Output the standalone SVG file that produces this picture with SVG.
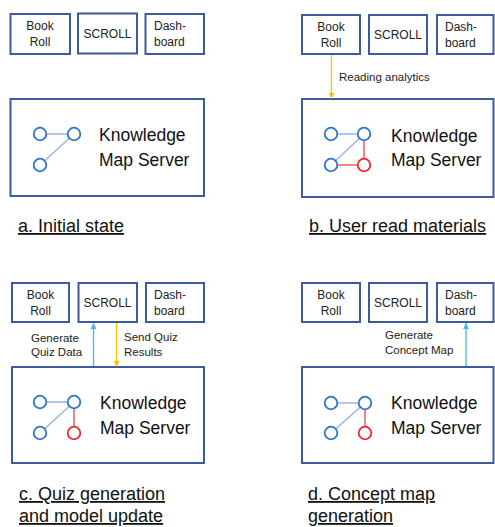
<svg xmlns="http://www.w3.org/2000/svg" width="495" height="527" viewBox="0 0 495 527">
<style>
.box{fill:#fff;stroke:#3C5B9C;stroke-width:2}
.sm{font-family:"Liberation Sans",Arial,sans-serif;font-size:12px;fill:#222;text-anchor:middle}
.sl{font-family:"Liberation Sans",Arial,sans-serif;font-size:12px;fill:#222}
.lbl{font-family:"Liberation Sans",Arial,sans-serif;font-size:11.5px;fill:#222}
.big{font-family:"Liberation Sans",Arial,sans-serif;font-size:17.5px;fill:#111}
.cap{font-family:"Liberation Sans",Arial,sans-serif;font-size:18px;fill:#111;text-decoration:underline}
.nb{fill:#fff;stroke:#2E75C6;stroke-width:1.8}
.nr{fill:#fff;stroke:#F0282D;stroke-width:1.8}
.eb{stroke:#9DB3E0;stroke-width:1.5}
.er{stroke:#F25A5E;stroke-width:1.5}
.ao{stroke:#FFC000;stroke-width:1.3;fill:none}
.ac{stroke:#3FB8EE;stroke-width:1.3;fill:none}
</style>
<defs>
<marker id="mo" viewBox="0 0 6 6" refX="6" refY="3" markerWidth="6" markerHeight="6" orient="auto" markerUnits="userSpaceOnUse"><path d="M0,0 L6,3 L0,6 z" fill="#FFC000"/></marker>
<marker id="mc" viewBox="0 0 6 6" refX="6" refY="3" markerWidth="6" markerHeight="6" orient="auto" markerUnits="userSpaceOnUse"><path d="M0,0 L6,3 L0,6 z" fill="#3FB8EE"/></marker>
</defs>

<!-- Panel a -->
<g id="a-bookroll"><rect class="box" x="10.5" y="14" width="59.5" height="40"/><text class="sm" x="40" y="30">Book</text><text class="sm" x="40" y="46">Roll</text></g>
<g id="a-scroll"><rect class="box" x="78" y="13.5" width="59" height="40"/><text class="sm" x="107.5" y="38">SCROLL</text></g>
<g id="a-dashboard"><rect class="box" x="145.5" y="14" width="58.5" height="40"/><text class="sl" x="154" y="30">Dash-</text><text class="sl" x="154" y="46">board</text></g>
<g id="a-kms"><rect class="box" x="10.5" y="99" width="193.5" height="97"/>
<line class="eb" x1="40" y1="134" x2="74" y2="134"/><line class="eb" x1="74" y1="134" x2="40" y2="165"/>
<circle class="nb" cx="40" cy="134" r="6.3"/><circle class="nb" cx="74" cy="134" r="6.3"/><circle class="nb" cx="40" cy="165" r="6.3"/>
<text class="big" x="99" y="140.5">Knowledge</text><text class="big" x="99" y="165.5">Map Server</text></g>
<text class="cap" x="18" y="232">a. Initial state</text>

<!-- Panel b -->
<g id="b-bookroll"><rect class="box" x="302" y="15" width="58" height="39"/><text class="sm" x="331" y="31">Book</text><text class="sm" x="331" y="47">Roll</text></g>
<g id="b-scroll"><rect class="box" x="369" y="15" width="58" height="39"/><text class="sm" x="398" y="39">SCROLL</text></g>
<g id="b-dashboard"><rect class="box" x="437" y="15" width="56.5" height="39"/><text class="sl" x="445" y="31">Dash-</text><text class="sl" x="445" y="47">board</text></g>
<g id="b-kms"><rect class="box" x="302" y="99" width="191.5" height="98"/>
<line class="eb" x1="331" y1="134" x2="364" y2="134"/><line class="eb" x1="364" y1="134" x2="331" y2="165"/>
<line class="er" x1="364" y1="134" x2="364" y2="165"/><line class="er" x1="331" y1="165" x2="364" y2="165"/>
<circle class="nb" cx="331" cy="134" r="6.3"/><circle class="nb" cx="364" cy="134" r="6.3"/><circle class="nb" cx="331" cy="165" r="6.3"/><circle class="nr" cx="364" cy="165" r="6.3"/>
<text class="big" x="391" y="141.5">Knowledge</text><text class="big" x="391" y="165.5">Map Server</text></g>
<text class="cap" x="309" y="232">b. User read materials</text>

<!-- Panel c -->
<g id="c-bookroll"><rect class="box" x="12" y="283" width="57" height="39"/><text class="sm" x="40.5" y="299">Book</text><text class="sm" x="40.5" y="315">Roll</text></g>
<g id="c-scroll"><rect class="box" x="78.5" y="283" width="58.5" height="39"/><text class="sm" x="107.5" y="307">SCROLL</text></g>
<g id="c-dashboard"><rect class="box" x="146" y="283" width="58" height="39"/><text class="sl" x="154" y="299">Dash-</text><text class="sl" x="154" y="315">board</text></g>
<g id="c-kms"><rect class="box" x="12" y="367" width="192" height="96"/>
<line class="eb" x1="40" y1="402" x2="74" y2="402"/><line class="eb" x1="74" y1="402" x2="40" y2="433"/>
<line class="er" x1="74" y1="402" x2="74" y2="433"/>
<circle class="nb" cx="40" cy="402" r="6.3"/><circle class="nb" cx="74" cy="402" r="6.3"/><circle class="nb" cx="40" cy="433" r="6.3"/><circle class="nr" cx="74" cy="433" r="6.3"/>
<text class="big" x="100" y="409">Knowledge</text><text class="big" x="100" y="434">Map Server</text></g>
<text class="cap" x="19" y="500">c. Quiz generation</text>
<text class="cap" x="19" y="522">and model update</text>

<!-- Panel d -->
<g id="d-bookroll"><rect class="box" x="302" y="283" width="58" height="39"/><text class="sm" x="331" y="299">Book</text><text class="sm" x="331" y="315">Roll</text></g>
<g id="d-scroll"><rect class="box" x="369" y="283" width="58" height="39"/><text class="sm" x="398" y="307">SCROLL</text></g>
<g id="d-dashboard"><rect class="box" x="437" y="283" width="56.5" height="39"/><text class="sl" x="445" y="299">Dash-</text><text class="sl" x="445" y="315">board</text></g>
<g id="d-kms"><rect class="box" x="302" y="367" width="191.5" height="96"/>
<line class="eb" x1="331" y1="403" x2="365" y2="403"/><line class="eb" x1="365" y1="403" x2="331" y2="433"/>
<line class="er" x1="365" y1="403" x2="365" y2="433"/>
<circle class="nb" cx="331" cy="403" r="6.3"/><circle class="nb" cx="365" cy="403" r="6.3"/><circle class="nb" cx="331" cy="433" r="6.3"/><circle class="nr" cx="365" cy="433" r="6.3"/>
<text class="big" x="391" y="409">Knowledge</text><text class="big" x="391" y="434">Map Server</text></g>
<text class="cap" x="308" y="500">d. Concept map</text>
<text class="cap" x="308" y="522">generation</text>

<!-- Connectors -->
<g id="connectors">
<line class="ao" x1="331.5" y1="55" x2="331.5" y2="98.5" marker-end="url(#mo)"/>
<text class="lbl" x="339" y="81">Reading analytics</text>
<line class="ac" x1="93.5" y1="366" x2="93.5" y2="323" marker-end="url(#mc)"/>
<line class="ao" x1="116.5" y1="323" x2="116.5" y2="366.5" marker-end="url(#mo)"/>
<text class="lbl" x="31" y="341.5">Generate</text><text class="lbl" x="31" y="356">Quiz Data</text>
<text class="lbl" x="124" y="341">Send Quiz</text><text class="lbl" x="124" y="355.5">Results</text>
<line class="ac" x1="466" y1="366" x2="466" y2="323" marker-end="url(#mc)"/>
<text class="lbl" x="385" y="339">Generate</text><text class="lbl" x="385" y="354">Concept Map</text>
</g>
</svg>
